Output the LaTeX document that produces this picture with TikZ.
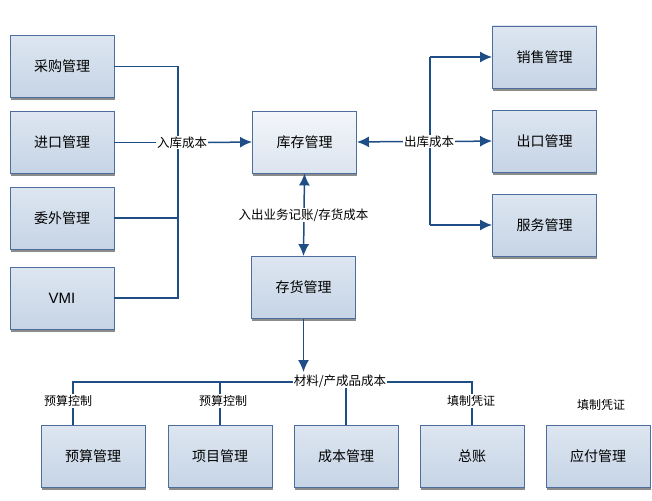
\documentclass[tikz,border=0pt]{standalone}
\usepackage{fontspec}
\setmainfont{Noto Sans CJK SC}
\newfontfamily\latinsans{Liberation Sans}
\usetikzlibrary{arrows.meta,shadows}
\definecolor{lineblue}{HTML}{1F4E86}
\definecolor{boxborder}{HTML}{4D6E9C}
\definecolor{boxtop}{HTML}{DDE6F1}
\definecolor{boxbot}{HTML}{C6D4E5}
\definecolor{hubtop}{HTML}{F3F6FA}
\definecolor{hubbot}{HTML}{DCE4EF}
\tikzset{
  mbox/.style={draw=boxborder, line width=0.9pt, top color=boxtop, bottom color=boxbot,
    minimum width=104pt, minimum height=62pt, inner sep=0pt, font=\fontsize{14}{15}\selectfont,
    drop shadow={shadow xshift=0.6pt, shadow yshift=-2.6pt, fill=black!45, opacity=1}},
  hubbox/.style={mbox, top color=hubtop, bottom color=hubbot},
  conn/.style={draw=lineblue, line width=1.5pt},
  arr/.style={conn, -{Latex[length=12pt,width=11pt]}},
  darr/.style={conn, {Latex[length=12pt,width=11pt]}-{Latex[length=12pt,width=11pt]}},
  lab/.style={fill=white, inner sep=1pt, font=\fontsize{12.5}{13}\selectfont},
  blab/.style={inner sep=1pt, font=\fontsize{12}{13}\selectfont}
}
\begin{document}
\begin{tikzpicture}[x=1pt,y=-1pt]
\useasboundingbox (0,0) rectangle (652,500);
% left boxes
\node[mbox] (cg) at (62,66.5) {采购管理};
\node[mbox] (jk) at (62,142.5) {进口管理};
\node[mbox] (ww) at (62,218) {委外管理};
\node[mbox] (vmi) at (62,298) {\latinsans\fontsize{15}{16}\selectfont VMI};
% center
\node[hubbox] (kc) at (304.5,142) {库存管理};
\node[mbox] (ch) at (303.5,287.5) {存货管理};
% right boxes
\node[mbox] (xs) at (544.5,57) {销售管理};
\node[mbox] (ck) at (544.5,141) {出口管理};
\node[mbox] (fw) at (544.5,225) {服务管理};
% bottom boxes
\node[mbox] (ys) at (93,456.5) {预算管理};
\node[mbox] (xm) at (220,456.5) {项目管理};
\node[mbox] (cb) at (346,456.5) {成本管理};
\node[mbox] (zz) at (472,456.5) {总账};
\node[mbox] (yf) at (598,456.5) {应付管理};
% junction coordinates
\coordinate (lt1) at (178,66.5);
\coordinate (lt2) at (178,142.5);
\coordinate (lt3) at (178,218);
\coordinate (lt4) at (178,298);
\coordinate (rt1) at (430,57);
\coordinate (rt3) at (430,225);
\coordinate (bb1) at (73,382);
\coordinate (bb2) at (220,382);
\coordinate (bb3) at (346,382);
\coordinate (bb4) at (472,382);
\coordinate (arrEnd) at (303.5,372);
% left connectors
\draw[conn] (cg.east) -- (lt1) -- (lt4) -- (vmi.east);
\draw[conn] (jk.east) -- (lt2);
\draw[conn] (ww.east) -- (lt3);
\node[lab] (rk) at (182,142.5) {入库成本};
\draw[arr] (rk.east) -- (kc.west);
% right connectors
\draw[arr] (rt1) -- (xs.west);
\draw[arr] (rt3) -- (fw.west);
\draw[conn] (rt1) -- (rt3);
\node[lab] (ckcb) at (429,141.5) {出库成本};
\draw[conn, {Latex[length=12pt,width=11pt]}-] (kc.east) -- (ckcb.west);
\draw[arr] (ckcb.east) -- (ck.west);
% center vertical
\draw[darr] (kc.south) -- (ch.north);
\node[lab] (rc) at (303.5,215) {入出业务记账/存货成本};
% bottom bus
\draw[conn] (ys.north -| bb1) -- (bb1) -- (bb4) -- (zz.north);
\draw[conn] (bb2) -- (xm.north);
\draw[conn] (bb3) -- (cb.north);
\node[lab] (clcb) at (340,381) {材料/产成品成本};
\draw[arr] (ch.south) -- (arrEnd);
\node[lab, blab, fill=white] (yk1) at (68,401) {预算控制};
\node[lab, blab, fill=white] (yk2) at (223,401) {预算控制};
\node[lab, blab, fill=white] (tz1) at (471,401) {填制凭证};
\node[blab] (tz2) at (601,405) {填制凭证};
\end{tikzpicture}
\end{document}
